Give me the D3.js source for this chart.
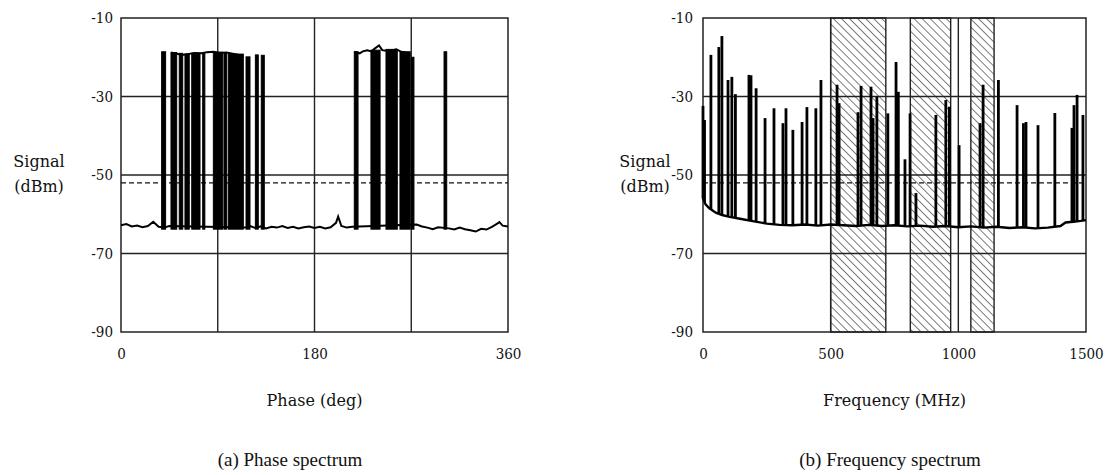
<!DOCTYPE html>
<html>
<head>
<meta charset="utf-8">
<script src="https://cdn.jsdelivr.net/npm/d3@7"></script>
<style>
  body { margin: 0; background: #fff; }
  .tick text { font-family: "DejaVu Serif Condensed", "DejaVu Serif", serif; font-size: 15px; fill: #111; }
  .title { font-family: "DejaVu Serif", serif; font-size: 16px; fill: #111; }
  .caption { font-family: "Liberation Serif", "Times New Roman", serif; font-size: 19px; fill: #111; }
</style>
</head>
<body>
<svg id="fig" width="1105" height="475"></svg>
<script>
// shared signal axis
var yTicks = [-10, -30, -50, -70, -90];
var threshold = -52;

// (a) phase spectrum
var phaseTicks = [0, 180, 360];
var phaseGrid = [90, 180, 270];
var phaseFloor = [[0,-62.8],[5,-62.5],[10,-63.1],[15,-62.9],[20,-63.3],[25,-63.0],[30,-61.9],[35,-63.2],[40,-63.4],[45,-63.0],
  [115,-63.4],[120,-63.0],[125,-63.5],[130,-63.1],[135,-63.6],[140,-63.2],[145,-63.4],[150,-63.0],[155,-63.5],[160,-63.2],
  [165,-63.6],[170,-63.3],[175,-63.1],[180,-63.5],[185,-63.2],[190,-63.6],[195,-63.3],[200,-62.2],[202,-60.6],[205,-63.0],
  [210,-63.4],[215,-63.2],[275,-62.6],[280,-63.1],[285,-63.4],[290,-63.8],[295,-63.3],[305,-63.6],[310,-63.9],[315,-63.4],
  [320,-63.8],[325,-64.1],[330,-64.4],[335,-63.7],[340,-63.9],[345,-63.2],[350,-62.4],[352,-62.0],[355,-62.9],[360,-63.1]];
// regions where the trace switches rapidly: [start deg, end deg, peak dBm]
var phaseBursts = [[37.8,41.5,-18.6],[46.5,51.8,-18.8],[54.2,57.4,-19.0],[59.5,63.5,-19.2],[65.8,73.5,-19.0],[76,78,-18.9],
  [85.9,94.6,-18.7],[95.8,98.3,-18.8],[99.8,113.8,-19.2],[116.3,120,-19.9],[125,127.7,-19.4],[130.5,133.3,-19.5],
  [217,220.5,-18.6],[232.5,241,-18.2],[246.5,257,-18.0],[259.5,269,-18.6],[270,272.5,-20.0],[300.5,303,-18.6]];
// high plateaus joining the bursts
var phaseTop1 = [[46.5,-18.8],[52,-19.1],[57,-19.4],[62,-19.2],[68,-18.9],[75,-19.0],[80,-18.7],[86,-18.6],[92,-18.9],
  [98,-18.8],[104,-19.1],[110,-19.4],[113.8,-19.6]];
var phaseTop2 = [[217,-18.6],[222,-19.0],[225,-18.5],[229,-18.2],[233,-18.5],[236,-17.8],[240,-17.0],[243,-18.2],
  [248,-18.4],[252,-18.3],[256,-18.0],[260,-18.5],[266,-18.9],[269,-19.6]];

// (b) frequency spectrum
var freqTicks = [0, 500, 1000, 1500];
var freqGrid = [500, 1000];
var excluded = [[500,716],[812,970],[1049,1140]];
var freqFloor = [[0,-56],[10,-57.5],[25,-58.5],[50,-59.6],[75,-60.2],[100,-60.6],[150,-61.2],[200,-61.8],[250,-62.4],
  [300,-62.7],[350,-62.8],[400,-62.6],[450,-62.9],[500,-62.6],[550,-62.8],[600,-63.0],[650,-62.7],[700,-63.0],[750,-62.8],
  [800,-63.1],[850,-62.9],[900,-63.2],[950,-63.0],[1000,-63.3],[1050,-63.1],[1100,-63.4],[1150,-63.2],[1200,-63.5],
  [1250,-63.3],[1300,-63.6],[1350,-63.4],[1400,-63.0],[1420,-62.1],[1450,-61.9],[1480,-61.7],[1500,-61.5]];
var freqSpikes = [[0,-32.4],[6,-36],[31,-19.4],[62,-17.4],[74,-14.6],[98,-25.8],[113,-25],[127,-29.4],[180,-24.5],
  [188,-24.6],[208,-27.9],[243,-35.5],[278,-33],[313,-36.8],[325,-33],[352,-38.5],[388,-36.5],[407,-32.7],[442,-33],
  [462,-25.8],[525,-27],[533,-31.7],[607,-34],[619,-27.3],[658,-27.5],[666,-35.5],[681,-30],[724,-34.3],[756,-21.2],
  [765,-28.8],[791,-46],[811,-34.3],[834,-54.6],[912,-34.7],[951,-30.9],[965,-32.6],[1003,-42.4],[1085,-36.8],
  [1097,-27],[1157,-25.8],[1230,-32.2],[1255,-36.8],[1265,-36.5],[1312,-37.3],[1378,-34.2],[1445,-38],[1453,-32.2],
  [1465,-29.6],[1488,-34.7]];

var svg = d3.select("#fig");
var plotTop = 18, plotBottom = 332;

var defs = svg.append("defs");
defs.append("pattern")
    .attr("id", "hatch")
    .attr("patternUnits", "userSpaceOnUse")
    .attr("width", 5.7).attr("height", 5.7)
    .attr("patternTransform", "rotate(-45)")
  .append("line")
    .attr("x1", 0).attr("y1", 0).attr("x2", 0).attr("y2", 5.7)
    .attr("stroke", "#111").attr("stroke-width", 1.1);

function plain(d) { return String(d); }

function panel(x0, x1, domain, ticks, grid, labelPad, titleX, xTitle, caption, captionX) {
  var x = d3.scaleLinear().domain(domain).range([x0, x1]);
  var y = d3.scaleLinear().domain([-90, -10]).range([plotBottom, plotTop]);
  var g = svg.append("g");

  var back = g.append("g");
  var gridG = g.append("g");
  var data = g.append("g");

  // grid
  gridG.selectAll(".hg").data(yTicks.slice(1, 4)).enter().append("line")
      .attr("x1", x0).attr("x2", x1)
      .attr("y1", function(d) { return y(d); }).attr("y2", function(d) { return y(d); })
      .attr("stroke", "#222").attr("stroke-width", 1.4);
  gridG.selectAll(".vg").data(grid).enter().append("line")
      .attr("x1", function(d) { return x(d); }).attr("x2", function(d) { return x(d); })
      .attr("y1", plotTop).attr("y2", plotBottom)
      .attr("stroke", "#222").attr("stroke-width", 1.4);
  gridG.append("rect")
      .attr("x", x0).attr("y", plotTop).attr("width", x1 - x0).attr("height", plotBottom - plotTop)
      .attr("fill", "none").attr("stroke", "#222").attr("stroke-width", 1.5);
  gridG.append("line")
      .attr("x1", x0).attr("x2", x1).attr("y1", y(threshold)).attr("y2", y(threshold))
      .attr("stroke", "#111").attr("stroke-width", 1.1).attr("stroke-dasharray", "5,3");

  // axes (labels only)
  g.append("g").attr("transform", "translate(" + x0 + ",0)")
      .call(d3.axisLeft(y).tickValues(yTicks).tickSize(0).tickPadding(labelPad).tickFormat(plain))
      .call(function(a) { a.select(".domain").remove(); });
  g.append("g").attr("transform", "translate(0," + plotBottom + ")")
      .call(d3.axisBottom(x).tickValues(ticks).tickSize(0).tickPadding(16).tickFormat(plain))
      .call(function(a) { a.select(".domain").remove(); });

  g.append("text").attr("class", "title").attr("x", titleX).attr("y", 167)
      .attr("text-anchor", "middle").text("Signal");
  g.append("text").attr("class", "title").attr("x", titleX).attr("y", 192)
      .attr("text-anchor", "middle").text("(dBm)");
  g.append("text").attr("class", "title").attr("x", (x0 + x1) / 2).attr("y", 406)
      .attr("text-anchor", "middle").text(xTitle);
  g.append("text").attr("class", "caption").attr("x", captionX).attr("y", 466)
      .attr("text-anchor", "middle").text(caption);

  return {x: x, y: y, back: back, data: data};
}

// ---- (a) phase
var pa = panel(121, 508, [0, 360], phaseTicks, phaseGrid, 8, 39, "Phase (deg)", "(a) Phase spectrum", 290);
var inCluster = function(d) { return (d[0] > 46 && d[0] < 114.5) || (d[0] > 216 && d[0] < 273); };
pa.data.append("path")
    .attr("d", d3.line().defined(function(d) { return !inCluster(d); })
        .x(function(d) { return pa.x(d[0]); }).y(function(d) { return pa.y(d[1]); })(phaseFloor))
    .attr("fill", "none").attr("stroke", "#000").attr("stroke-width", 2);
[phaseTop1, phaseTop2].forEach(function(t) {
  pa.data.append("path").attr("d", d3.line().x(function(d) { return pa.x(d[0]); }).y(function(d) { return pa.y(d[1]); })(t))
      .attr("fill", "none").attr("stroke", "#000").attr("stroke-width", 2);
});
pa.data.selectAll(".burst").data(phaseBursts).enter().append("rect")
    .attr("x", function(d) { return pa.x(d[0]); })
    .attr("width", function(d) { return Math.max(pa.x(d[1]) - pa.x(d[0]), 1.5); })
    .attr("y", function(d) { return pa.y(d[2]); })
    .attr("height", function(d) { return pa.y(-63.8) - pa.y(d[2]); })
    .attr("fill", "#000").attr("stroke", "#000").attr("stroke-width", 1);

// ---- (b) frequency
var pb = panel(703, 1086, [0, 1500], freqTicks, freqGrid, 10, 645, "Frequency (MHz)", "(b) Frequency spectrum", 890);
pb.back.selectAll(".band").data(excluded).enter().append("rect")
    .attr("x", function(d) { return pb.x(d[0]); })
    .attr("width", function(d) { return pb.x(d[1]) - pb.x(d[0]); })
    .attr("y", plotTop).attr("height", plotBottom - plotTop)
    .attr("fill", "url(#hatch)").attr("stroke", "#222").attr("stroke-width", 1.4);

var bis = d3.bisector(function(d) { return d[0]; }).left;
function floorAt(f) {
  var i = Math.max(1, Math.min(freqFloor.length - 1, bis(freqFloor, f)));
  var a = freqFloor[i - 1], b = freqFloor[i];
  return a[1] + (b[1] - a[1]) * (f - a[0]) / (b[0] - a[0]);
}
pb.data.append("path")
    .attr("d", d3.line().x(function(d) { return pb.x(d[0]); }).y(function(d) { return pb.y(d[1]); })(freqFloor))
    .attr("fill", "none").attr("stroke", "#000").attr("stroke-width", 2.4);
pb.data.selectAll(".spike").data(freqSpikes).enter().append("line")
    .attr("x1", function(d) { return pb.x(d[0]); }).attr("x2", function(d) { return pb.x(d[0]); })
    .attr("y1", function(d) { return pb.y(d[1]); })
    .attr("y2", function(d) { return pb.y(floorAt(d[0])); })
    .attr("stroke", "#000").attr("stroke-width", 2.8);
</script>
</body>
</html>
